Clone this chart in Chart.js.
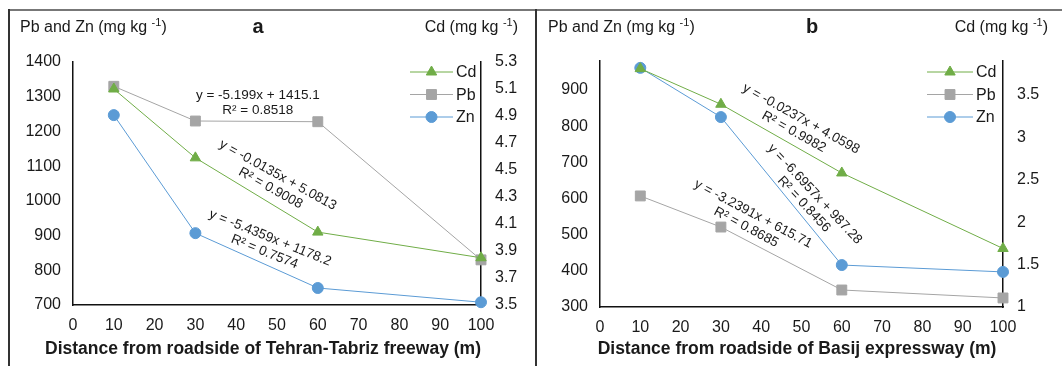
<!DOCTYPE html>
<html>
<head>
<meta charset="utf-8">
<script src="https://cdn.jsdelivr.net/npm/chart.js@4.4.0/dist/chart.umd.min.js"></script>
<style>
  body { margin: 0; background: #fff; overflow: hidden; }
  #wrap { position: relative; width: 1062px; height: 366px; }
  canvas { position: absolute; top: 0; }
  #chartA { left: 0; }
  #chartB { left: 531px; }
  .line { position: absolute; background: #333; }
</style>
</head>
<body>
<div id="wrap">
  <canvas id="chartA" width="531" height="366"></canvas>
  <canvas id="chartB" width="531" height="366"></canvas>
  <div class="line" style="left:8px;top:9px;width:1054px;height:1.5px;background:#777"></div>
  <div class="line" style="left:8px;top:9px;width:1.5px;height:357px"></div>
  <div class="line" style="left:535px;top:9px;width:1.5px;height:357px"></div>
</div>
<script>
// distances from the road (m)
const distances = [10, 30, 60, 100]

// panel a - Tehran-Tabriz freeway
const cdA = [5.10, 4.59, 4.04, 3.85]
const pbA = [1330, 1230, 1228, 830]
const znA = [1247, 907, 749, 708]

// panel b - Basij expressway
const cdB = [3.81, 3.39, 2.58, 1.69]
const pbB = [607, 521, 347, 325]
const znB = [961, 825, 416, 397]

// trend line labels: [x, y(left axis), angle, equation, r2]
const trendA = [
  [45.3, 1305, 0, 'y = -5.199x + 1415.1', 'R² = 0.8518'],
  [50.2, 1074, 29, 'y = -0.0135x + 5.0813', 'R² = 0.9008'],
  [48.3, 893, 22, 'y = -5.4359x + 1178.2', 'R² = 0.7574']
]
const trendB = [
  [49.9, 820, 29, 'y = -0.0237x + 4.0598', 'R² = 0.9982'],
  [53.3, 612, 47, 'y = -6.6957x + 987.28', 'R² = 0.8456'],
  [38.0, 557, 28, 'y = -3.2391x + 615.71', 'R² = 0.8685']
]

const FONT = '"Liberation Sans", Arial, sans-serif'
const green = '#70AD47', grey = '#A5A5A5', blue = '#5B9BD5'

function pts(vals) {
  return distances.map((d, i) => ({ x: d, y: vals[i] }))
}

// "Pb and Zn (mg kg -1)" with the -1 raised
function unitLabel(ctx, x, y, prefix, alignRight) {
  const parts = [[prefix + ' (mg kg ', 16, 0], ['-1', 11, -6], [')', 16, 0]]
  let w = 0
  parts.forEach(p => { ctx.font = p[1] + 'px ' + FONT; w += ctx.measureText(p[0]).width })
  let cx = alignRight ? x - w : x
  ctx.textAlign = 'left'
  ctx.textBaseline = 'alphabetic'
  parts.forEach(p => {
    ctx.font = p[1] + 'px ' + FONT
    ctx.fillText(p[0], cx, y + p[2])
    cx += ctx.measureText(p[0]).width
  })
}

const textPlugin = {
  id: 'texts',
  afterDraw(chart, args, o) {
    const ctx = chart.ctx
    const xs = chart.scales.x, ys = chart.scales.y, area = chart.chartArea
    ctx.save()
    ctx.fillStyle = '#1a1a1a'
    unitLabel(ctx, o.leftTitleX, 32, 'Pb and Zn', false)
    unitLabel(ctx, o.rightTitleX, 32, 'Cd', true)
    ctx.font = 'bold 20px ' + FONT
    ctx.textAlign = 'center'
    ctx.fillText(o.letter, o.letterX, 33)

    // x axis title
    ctx.font = 'bold 17.5px ' + FONT
    ctx.textBaseline = 'middle'
    ctx.fillText(o.xTitle, o.xTitleX, 349)

    // trend equations
    ctx.font = '13.5px ' + FONT
    o.trends.forEach(t => {
      ctx.save()
      ctx.translate(xs.getPixelForValue(t[0]), ys.getPixelForValue(t[1]))
      ctx.rotate(t[2] * Math.PI / 180)
      ctx.fillText(t[3], 0, 0)
      ctx.fillText(t[4], 0, 15)
      ctx.restore()
    })

    // legend inside the plot
    chart.data.datasets.forEach((ds, i) => {
      const y = 72 + i * 22.5
      const x0 = area.right - o.legendStart
      const x1 = area.right - o.legendEnd
      ctx.strokeStyle = ds.borderColor
      ctx.lineWidth = 1
      ctx.beginPath(); ctx.moveTo(x0, y); ctx.lineTo(x1, y); ctx.stroke()
      ctx.fillStyle = ds.backgroundColor
      Chart.helpers.drawPoint(ctx, { pointStyle: ds.pointStyle, radius: ds.pointRadius, borderWidth: 1, rotation: 0 }, (x0 + x1) / 2, y)
      ctx.fillStyle = '#1a1a1a'
      ctx.font = '16px ' + FONT
      ctx.textAlign = 'left'
      ctx.fillText(ds.label, x1 + 3, y + 1)
    })
    ctx.restore()
  }
}

function makeChart(id, d, s) {
  const tickFont = { family: FONT, size: 16 }
  return new Chart(document.getElementById(id), {
    type: 'line',
    data: {
      datasets: [
        { label: 'Cd', data: pts(d.cd), yAxisID: 'y1', borderColor: green, backgroundColor: green,
          pointStyle: 'triangle', pointRadius: 6, borderWidth: 1, clip: false },
        { label: 'Pb', data: pts(d.pb), yAxisID: 'y', borderColor: grey, backgroundColor: grey,
          pointStyle: 'rect', pointRadius: 7, borderWidth: 1, clip: false },
        { label: 'Zn', data: pts(d.zn), yAxisID: 'y', borderColor: blue, backgroundColor: blue,
          pointStyle: 'circle', pointRadius: 5.5, borderWidth: 1, clip: false }
      ]
    },
    options: {
      responsive: false,
      animation: false,
      layout: { padding: { top: s.top, left: 0, right: 0, bottom: 0 } },
      plugins: {
        legend: { display: false },
        tooltip: { enabled: false },
        texts: s.texts
      },
      scales: {
        x: {
          type: 'linear', min: 0, max: 100,
          grid: { display: false, drawTicks: false },
          border: { color: '#111', width: 1.5 },
          ticks: { stepSize: 10, color: '#1a1a1a', font: tickFont, padding: 11, maxRotation: 0,
                   callback: v => String(v) },
          afterFit: sc => { sc.height = 366 - s.bottom }
        },
        y: {
          position: 'left', min: d.yMin, max: d.yMax,
          grid: { display: false, drawTicks: false },
          border: { color: '#111', width: 1.5 },
          ticks: { stepSize: 100, includeBounds: false, color: '#1a1a1a', font: tickFont, padding: 12,
                   callback: v => String(v) },
          afterFit: sc => { sc.width = s.left }
        },
        y1: {
          position: 'right', min: d.y1Min, max: d.y1Max,
          grid: { display: false, drawTicks: false },
          border: { color: '#111', width: 1.5 },
          ticks: { stepSize: d.y1Step, includeBounds: false, color: '#1a1a1a', font: tickFont, padding: 14,
                   callback: v => d.y1Step < 0.5 ? v.toFixed(1) : String(Math.round(v * 10) / 10) },
          afterFit: sc => { sc.width = s.right }
        }
      }
    },
    plugins: [textPlugin]
  })
}

makeChart('chartA',
  { cd: cdA, pb: pbA, zn: znA, yMin: 700, yMax: 1400, y1Min: 3.5, y1Max: 5.3, y1Step: 0.2 },
  { top: 62, bottom: 305, left: 73, right: 50,
    texts: { letter: 'a', letterX: 258, leftTitleX: 20, rightTitleX: 518,
             xTitle: 'Distance from roadside of Tehran-Tabriz freeway (m)', xTitleX: 263,
             trends: trendA, legendStart: 71, legendEnd: 28 } })

makeChart('chartB',
  { cd: cdB, pb: pbB, zn: znB, yMin: 300, yMax: 980, y1Min: 1, y1Max: 3.9, y1Step: 0.5 },
  { top: 61, bottom: 307, left: 69, right: 59,
    texts: { letter: 'b', letterX: 281, leftTitleX: 17, rightTitleX: 517,
             xTitle: 'Distance from roadside of Basij expressway (m)', xTitleX: 266,
             trends: trendB, legendStart: 76, legendEnd: 30 } })
</script>
</body>
</html>
